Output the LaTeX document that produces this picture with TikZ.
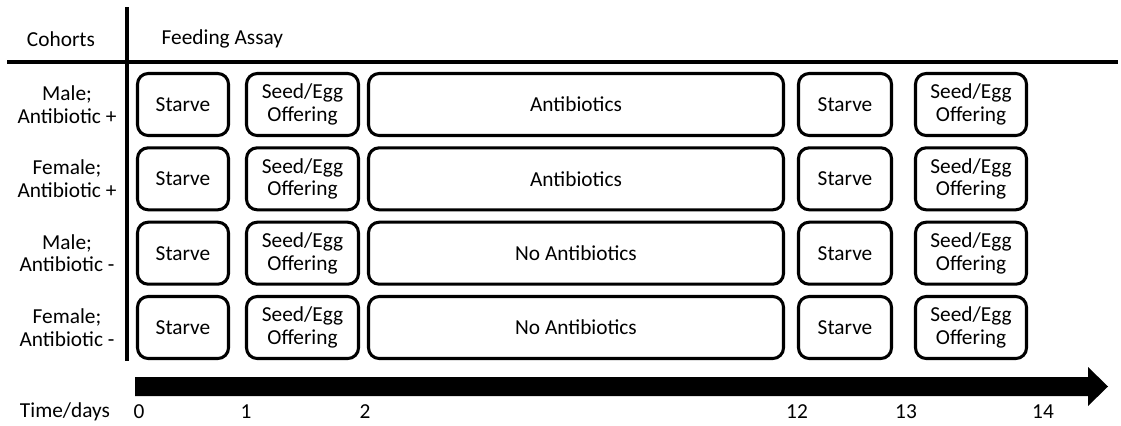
\documentclass[tikz,border=0pt]{standalone}
\usepackage{fontspec}
\setmainfont{Carlito}
\usepackage{tikz}
\usetikzlibrary{calc}

\tikzset{
  phase/.style={draw, line width=2.3pt, rounded corners=8pt, align=center, minimum height=46.5pt, inner sep=1pt},
  starve/.style={phase, minimum width=68.25pt},
  offer/.style={phase, minimum width=84pt},
  treat/.style={phase, minimum width=311.25pt},
  starvetwo/.style={phase, minimum width=69.75pt},
  offertwo/.style={phase, minimum width=83.25pt},
  cohort/.style={align=center},
  tick/.style={anchor=center}
}

\begin{document}
\begin{tikzpicture}[x=0.75pt, y=-0.75pt, font=\fontsize{16}{17}\selectfont]
\useasboundingbox (0,0) rectangle (1121,425);

% header lines
\draw[line width=3.3pt] (127,7) -- (127,361);
\draw[line width=3.3pt] (7,62) -- (1118,62);
\node (cohorts) at (61,39) {Cohorts};
\node[anchor=west] (assay) at (157,39) {Feeding Assay};

% row labels
\node[cohort] (c1) at (67,104.5) {Male;\\Antibiotic +};
\node[cohort] (c2) at (67,178.8) {Female;\\Antibiotic +};
\node[cohort] (c3) at (67,253.2) {Male;\\Antibiotic -};
\node[cohort] (c4) at (67,327.5) {Female;\\Antibiotic -};

% row 1
\node[starve] (s1) at (183,104.5) {Starve};
\node[offer] (o1) at (302.5,104.5) {Seed/Egg\\Offering};
\node[treat] (a1) at (576,104.5) {Antibiotics};
\node[starvetwo] (t1) at (845,104.5) {Starve};
\node[offertwo] (e1) at (971,104.5) {Seed/Egg\\Offering};

% row 2
\node[starve] (s2) at (183,178.8) {Starve};
\node[offer] (o2) at (302.5,178.8) {Seed/Egg\\Offering};
\node[treat] (a2) at (576,178.8) {Antibiotics};
\node[starvetwo] (t2) at (845,178.8) {Starve};
\node[offertwo] (e2) at (971,178.8) {Seed/Egg\\Offering};

% row 3
\node[starve] (s3) at (183,253.2) {Starve};
\node[offer] (o3) at (302.5,253.2) {Seed/Egg\\Offering};
\node[treat] (a3) at (576,253.2) {No Antibiotics};
\node[starvetwo] (t3) at (845,253.2) {Starve};
\node[offertwo] (e3) at (971,253.2) {Seed/Egg\\Offering};

% row 4
\node[starve] (s4) at (183,327.5) {Starve};
\node[offer] (o4) at (302.5,327.5) {Seed/Egg\\Offering};
\node[treat] (a4) at (576,327.5) {No Antibiotics};
\node[starvetwo] (t4) at (845,327.5) {Starve};
\node[offertwo] (e4) at (971,327.5) {Seed/Egg\\Offering};

% time arrow
\fill (135,377) -- (1088,377) -- (1088,367) -- (1108,386.5) -- (1088,406) -- (1088,396) -- (135,396) -- cycle;

\node (time) at (65,412) {Time/days};
\node[tick] (d0) at (139,412) {0};
\node[tick] (d1) at (246,412) {1};
\node[tick] (d2) at (365,412) {2};
\node[tick] (d12) at (797,412) {12};
\node[tick] (d13) at (906,412) {13};
\node[tick] (d14) at (1043,412) {14};
\end{tikzpicture}
\end{document}
